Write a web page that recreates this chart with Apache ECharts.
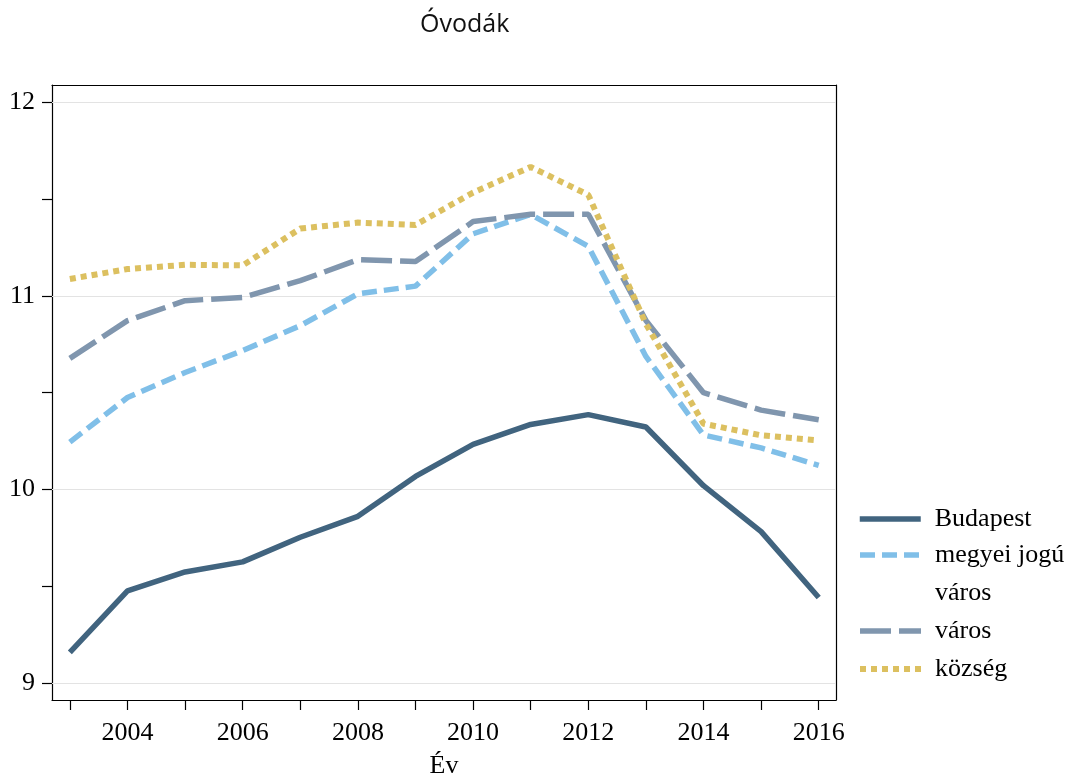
<!DOCTYPE html>
<html>
<head>
<meta charset="utf-8">
<script src="https://cdn.jsdelivr.net/npm/echarts@6/dist/echarts.min.js"></script>
<style>
html,body{margin:0;padding:0;background:#fff;}
#chart{width:1079px;height:784px;}
</style>
</head>
<body>
<div id="chart"></div>
<script>
// ---- data ----
var years = [2003, 2004, 2005, 2006, 2007, 2008, 2009, 2010, 2011, 2012, 2013, 2014, 2015, 2016];
var budapest = [9.160, 9.477, 9.575, 9.627, 9.754, 9.862, 10.068, 10.233, 10.336, 10.387, 10.323, 10.020, 9.783, 9.443];
var megyei   = [10.245, 10.475, 10.604, 10.717, 10.846, 11.010, 11.050, 11.320, 11.420, 11.255, 10.687, 10.282, 10.215, 10.125];
var varos    = [10.677, 10.872, 10.975, 10.992, 11.078, 11.186, 11.177, 11.383, 11.421, 11.421, 10.873, 10.500, 10.410, 10.360];
var kozseg   = [11.087, 11.138, 11.160, 11.157, 11.347, 11.378, 11.366, 11.533, 11.665, 11.521, 10.855, 10.340, 10.280, 10.254];
var seriesNames = ['Budapest', 'megyei jogú város', 'város', 'község'];
var legendLabels = ['Budapest', 'megyei jogú\nváros', 'város', 'község'];
var xTickValues = [2003, 2004, 2005, 2006, 2007, 2008, 2009, 2010, 2011, 2012, 2013, 2014, 2015, 2016];
var xLabelValues = [2004, 2006, 2008, 2010, 2012, 2014, 2016];
var yTickValues = [9, 9.5, 10, 10.5, 11, 11.5, 12];
var yLabelValues = [9, 10, 11, 12];
var titleText = 'Óvodák';
var xAxisTitle = 'Év';

function pairs(vals) { return years.map(function (y, i) { return [y, vals[i]]; }); }

var serif = '"Liberation Serif", "Times New Roman", serif';
var colors = ['#41647F', '#80BFE8', '#8096AE', '#DCC060'];

var chart = echarts.init(document.getElementById('chart'), null, {renderer: 'canvas'});

var legendText = {fontFamily: serif, fontSize: 26, color: '#000', lineHeight: 38, padding: [0, 0, 0, 9]};
var legendCommon = {
  orient: 'vertical', left: 857, padding: 0,
  itemWidth: 61, itemHeight: 14, itemGap: 0,
  selectedMode: false,
  textStyle: legendText,
  lineStyle: {width: 'inherit', type: 'inherit', color: 'inherit'},
  itemStyle: {opacity: 0, borderWidth: 0, color: 'rgba(0,0,0,0)'},
  formatter: function (n) {
    var i = seriesNames.indexOf(n);
    var t = legendLabels[i];
    // multi-line label: pad a blank first line so the first text line sits beside the key
    return t.indexOf('\n') >= 0 ? '\u00a0\n' + t : t;
  }
};

var option = {
  animation: false,
  backgroundColor: '#fff',
  title: {
    text: titleText,
    left: 415, top: 7,
    textStyle: {fontFamily: '"Open Sans", "Noto Sans", sans-serif', fontSize: 25, fontWeight: 'normal', color: '#111'}
  },
  grid: {left: 52, top: 85, right: 243, bottom: 84, containLabel: false},
  legend: [
    Object.assign({}, legendCommon, {data: [seriesNames[0]], top: 500}),
    Object.assign({}, legendCommon, {data: [seriesNames[1], seriesNames[2], seriesNames[3]], top: 498})
  ],
  xAxis: [
    {
      type: 'value', min: 2002.69, max: 2016.3,
      axisLine: {show: true, onZero: false, lineStyle: {color: '#000', width: 1.2}},
      axisTick: {show: true, inside: false, length: 10, customValues: xTickValues, lineStyle: {color: '#000', width: 1.2}},
      axisLabel: {customValues: xLabelValues, margin: 20, fontFamily: serif, fontSize: 26, color: '#000', formatter: function (v) { return String(v); }},
      splitLine: {show: false},
      name: xAxisTitle, nameLocation: 'middle', nameGap: 53,
      nameTextStyle: {fontFamily: serif, fontSize: 26, color: '#000'}
    },
    {
      type: 'value', position: 'top', min: 2002.69, max: 2016.3,
      axisLine: {show: true, onZero: false, lineStyle: {color: '#000', width: 1.2}},
      axisTick: {show: false}, axisLabel: {show: false}, splitLine: {show: false}
    }
  ],
  yAxis: [
    {
      type: 'value', min: 8.914, max: 12.088,
      axisLine: {show: true, onZero: false, lineStyle: {color: '#000', width: 1.2}},
      axisTick: {show: true, inside: false, length: 10, customValues: yTickValues, lineStyle: {color: '#000', width: 1.2}},
      axisLabel: {customValues: yLabelValues, margin: 17, fontFamily: serif, fontSize: 26, color: '#000', formatter: function (v) { return String(v); }},
      splitLine: {show: false}
    },
    {
      type: 'value', position: 'right', min: 8.914, max: 12.088,
      axisLine: {show: true, onZero: false, lineStyle: {color: '#000', width: 1.2}},
      axisTick: {show: false}, axisLabel: {show: false}, splitLine: {show: false}
    }
  ],
  series: [
    {
      name: seriesNames[0], type: 'line', data: pairs(budapest), symbol: 'none', z: 3,
      lineStyle: {color: colors[0], width: 5.5, type: 'solid', cap: 'butt'},
      itemStyle: {color: colors[0]},
      markLine: {
        silent: true, symbol: 'none', label: {show: false}, animation: false, z: 1,
        lineStyle: {color: '#e3e3e3', width: 1.2, type: 'solid'},
        data: yLabelValues.map(function (v) { return {yAxis: v}; })
      }
    },
    {
      name: seriesNames[1], type: 'line', data: pairs(megyei), symbol: 'none', z: 4,
      lineStyle: {color: colors[1], width: 5.5, type: [15, 7], cap: 'butt'},
      itemStyle: {color: colors[1]}
    },
    {
      name: seriesNames[2], type: 'line', data: pairs(varos), symbol: 'none', z: 5,
      lineStyle: {color: colors[2], width: 5.5, type: [31, 8], cap: 'butt'},
      itemStyle: {color: colors[2]}
    },
    {
      name: seriesNames[3], type: 'line', data: pairs(kozseg), symbol: 'none', z: 6,
      lineStyle: {color: colors[3], width: 6, type: [6, 5], cap: 'butt'},
      itemStyle: {color: colors[3]}
    }
  ]
};
chart.setOption(option);
</script>
</body>
</html>
